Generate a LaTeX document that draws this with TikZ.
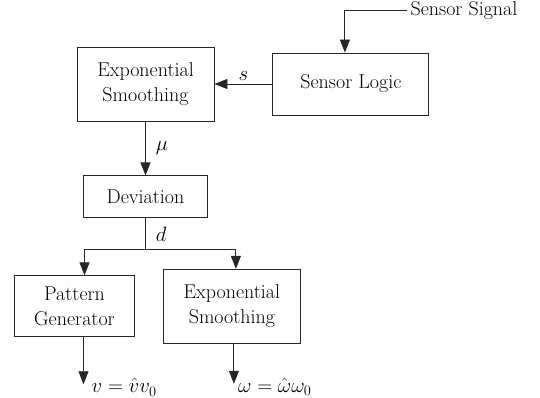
\documentclass[tikz,border=0pt]{standalone}
\usepackage{tikz}
\usetikzlibrary{arrows.meta,positioning}
\tikzset{
  blk/.style  ={rectangle,draw=black!85,line width=0.9pt,inner sep=0pt,
                 minimum width=137pt,minimum height=74pt,align=center},
  blks/.style ={blk,minimum width=156pt,minimum height=62pt},
  blkd/.style ={blk,minimum width=124pt,minimum height=42pt},
  blkp/.style ={blk,minimum width=120pt,minimum height=61pt},
  sig/.style  ={-{Triangle[length=13pt,width=10pt]},line width=0.9pt,draw=black!85},
  wire/.style ={line width=0.9pt,draw=black!85},
  lbl/.style  ={inner sep=3pt},
  outl/.style ={inner sep=1pt,anchor=west},
}
\begin{document}
\begin{tikzpicture}[font=\fontsize{20}{25}\selectfont]
  \useasboundingbox (0,0) rectangle (540pt,-398pt);
  \node[blk]                  (es1)   at (145.5pt,-84pt) {Exponential\\Smoothing};
  \node[blks,right=58pt of es1] (logic) {Sensor Logic};
  \node[lbl,anchor=west]      (sig)   at ([xshift=-22pt,yshift=42pt]logic.north east) {Sensor Signal};
  \node[blkd,below=54pt of es1] (dev)   {Deviation};
  \coordinate[below=31pt of dev] (split);
  \node[blkp,below=57pt of dev,xshift=-71pt] (pg) {Pattern\\Generator};
  \node[blk,right=28pt of pg] (es2)   {Exponential\\Smoothing};
  \draw[sig](sig.west) -| ([xshift=-6pt]logic.north);
  \draw[sig](logic) -- node[lbl,above]{$s$} (es1);
  \draw[sig](es1)   -- node[lbl,right=7pt]{$\mu$} (dev);
  \draw[wire](dev)  -- node[lbl,right=7pt]{$d$} (split);
  \draw[sig](split) -| ([xshift=10pt]pg.north);
  \draw[sig](split) -| ([xshift=4pt]es2.north);
  \draw[sig]([xshift=9pt]pg.south) -- ++(0,-47pt) coordinate (vout);
  \draw[sig]([xshift=2pt]es2.south) -- ++(0,-40pt) coordinate (wout);
  \node[outl] (vlbl) at ([xshift=7pt,yshift=-3pt]vout) {$v=\hat{v}v_0$};
  \node[outl] (wlbl) at ([xshift=3pt,yshift=-3pt]wout) {$\omega=\hat{\omega}\omega_0$};
\end{tikzpicture}
\end{document}
